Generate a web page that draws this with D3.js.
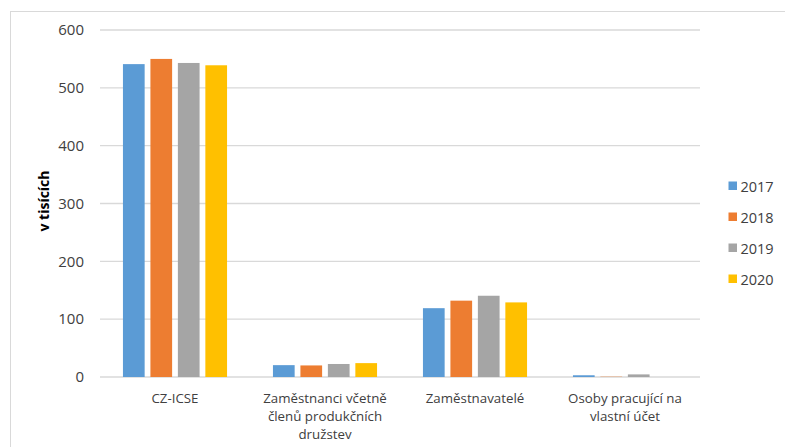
<!DOCTYPE html>
<html>
<head>
<meta charset="utf-8">
<script src="https://cdn.jsdelivr.net/npm/d3@7"></script>
<style>
  body { margin: 0; background: #fff; }
  text { font-family: "Open Sans", sans-serif; fill: #404040; }
</style>
</head>
<body>
<div id="chart"></div>
<script>
  // data
  var categories = ["CZ-ICSE", "Zaměstnanci včetně členů produkčních družstev", "Zaměstnavatelé", "Osoby pracující na vlastní účet"];
  var categoryLines = [["CZ-ICSE"], ["Zaměstnanci včetně", "členů produkčních", "družstev"], ["Zaměstnavatelé"], ["Osoby pracující na", "vlastní účet"]];
  var years = ["2017", "2018", "2019", "2020"];
  var values2017 = [541, 20.5, 119, 3];
  var values2018 = [550, 20, 132, 0.5];
  var values2019 = [543, 22.5, 140.5, 4.5];
  var values2020 = [539, 24, 129, 0];
  var yTicks = [0, 100, 200, 300, 400, 500, 600];

  var series = [values2017, values2018, values2019, values2020];
  var colors = ["#5B9BD5", "#ED7D31", "#A5A5A5", "#FFC000"];

  var width = 785, height = 447;
  var margin = { top: 30, right: 85, bottom: 70, left: 100 };

  var svg = d3.select("#chart").append("svg")
    .attr("width", width)
    .attr("height", height);

  // chart frame
  svg.append("rect")
    .attr("x", 10.5).attr("y", 11.5)
    .attr("width", 800).attr("height", 460)
    .attr("fill", "none")
    .attr("stroke", "#D9D9D9");

  var x0 = d3.scaleBand().domain(categories).range([margin.left, width - margin.right]).padding(0);
  var x1 = d3.scaleBand().domain(years)
    .range([x0.bandwidth() * 0.153, x0.bandwidth() * 0.847])
    .paddingInner(0.21).paddingOuter(0);
  var y = d3.scaleLinear().domain([0, 600]).range([377, 30]);

  // gridlines
  svg.append("g")
    .selectAll("line")
    .data(yTicks)
    .enter()
    .append("line")
    .attr("x1", margin.left)
    .attr("x2", width - margin.right)
    .attr("y1", function (d) { return y(d); })
    .attr("y2", function (d) { return y(d); })
    .attr("stroke", "#D9D9D9")
    .attr("stroke-width", 1.3);

  // y axis
  var yAxis = svg.append("g")
    .attr("transform", "translate(" + (margin.left - 16) + ",0)")
    .call(d3.axisLeft(y).tickValues(yTicks).tickSize(0).tickPadding(0));
  yAxis.select(".domain").remove();
  yAxis.selectAll("text")
    .style("font-family", "Open Sans")
    .style("font-size", "15px")
    .attr("fill", "#404040");

  // bars
  var groups = svg.append("g")
    .selectAll("g")
    .data(categories)
    .enter()
    .append("g")
    .attr("transform", function (d) { return "translate(" + x0(d) + ",0)"; });

  groups.selectAll("rect")
    .data(function (d, i) {
      return years.map(function (yr, j) { return { year: yr, value: series[j][i], color: colors[j] }; });
    })
    .enter()
    .append("rect")
    .attr("x", function (d) { return x1(d.year); })
    .attr("y", function (d) { return y(d.value); })
    .attr("width", x1.bandwidth())
    .attr("height", function (d) { return y(0) - y(d.value); })
    .attr("fill", function (d) { return d.color; });

  // category labels
  var labels = svg.append("g")
    .selectAll("text")
    .data(categories)
    .enter()
    .append("text")
    .attr("text-anchor", "middle")
    .style("font-size", "13.3px")
    .attr("x", function (d) { return x0(d) + x0.bandwidth() / 2; })
    .attr("y", 403);
  labels.each(function (d, i) {
    var t = d3.select(this);
    categoryLines[i].forEach(function (line, k) {
      t.append("tspan")
        .attr("x", x0(d) + x0.bandwidth() / 2)
        .attr("dy", k === 0 ? 0 : 18)
        .text(line);
    });
  });

  // y axis label
  svg.append("text")
    .attr("transform", "translate(49,201) rotate(-90)")
    .attr("text-anchor", "middle")
    .style("font-size", "14px")
    .style("font-weight", "bold")
    .style("fill", "#000")
    .text("v tisících");

  // legend
  var legend = svg.append("g")
    .selectAll("g")
    .data(years)
    .enter()
    .append("g")
    .attr("transform", function (d, i) { return "translate(728.5," + (186 + i * 31) + ")"; });
  legend.append("rect")
    .attr("x", 0).attr("y", -4.5)
    .attr("width", 8.5).attr("height", 8.5)
    .attr("fill", function (d, i) { return colors[i]; });
  legend.append("text")
    .attr("x", 12)
    .attr("y", 5.5)
    .style("font-size", "14.5px")
    .text(function (d) { return d; });
</script>
</body>
</html>
